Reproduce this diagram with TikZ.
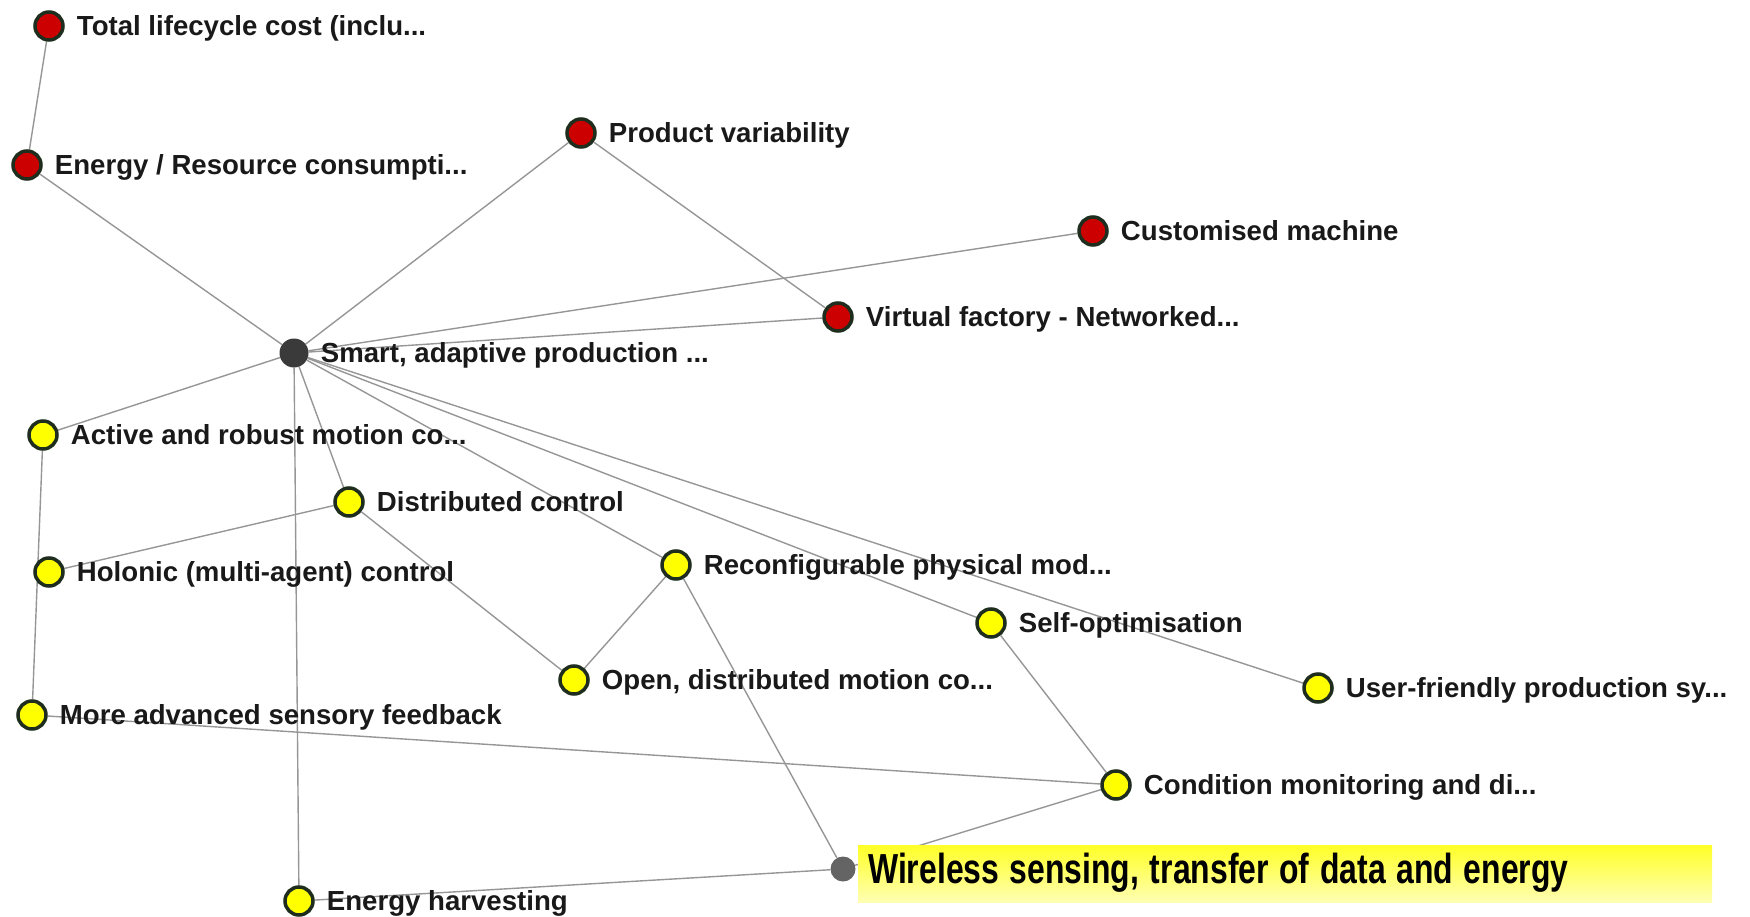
\documentclass[tikz,border=0pt]{standalone}
\usepackage{fontspec}
\setmainfont{Liberation Sans}
\usetikzlibrary{positioning, backgrounds}
\definecolor{nodered}{RGB}{204,0,0}
\definecolor{nodeyellow}{RGB}{255,255,0}
\definecolor{rimgreen}{RGB}{30,45,30}
\definecolor{hubgrey}{RGB}{58,58,58}
\definecolor{dotgrey}{RGB}{100,100,100}
\definecolor{edgegrey}{RGB}{150,150,150}

\begin{document}
\begin{tikzpicture}[
  x=1pt, y=-1pt,
  node distance=12pt,
  dot/.style={circle, draw=rimgreen, line width=3.5pt, inner sep=0pt, minimum size=28pt},
  redv/.style={dot, fill=nodered},
  yelv/.style={dot, fill=nodeyellow},
  hubv/.style={circle, fill=hubgrey, inner sep=0pt, minimum size=29pt},
  lbl/.style={inner sep=0pt, text height=19.5pt, text depth=0pt,
              font=\bfseries\fontsize{27.6}{30}\selectfont, text=black!90},
  edge/.style={draw=edgegrey, line width=1.4pt}
]
\useasboundingbox (0,0) rectangle (1750,917);

% red (driver) nodes
\node[redv] (tlc)  at (49,26)   {};
\node[redv] (erc)  at (27,165)  {};
\node[redv] (pvar) at (581,133) {};
\node[redv] (cust) at (1093,231) {};
\node[redv] (vfac) at (838,317) {};

% hub
\node[hubv] (smart) at (294,353) {};

% yellow (technology) nodes
\node[yelv] (arm)   at (43,435)   {};
\node[yelv] (dctl)  at (349,502)  {};
\node[yelv] (holo)  at (49,572)   {};
\node[yelv] (recf)  at (676,565)  {};
\node[yelv] (selfo) at (991,623)  {};
\node[yelv] (odm)   at (574,680)  {};
\node[yelv] (ufps)  at (1318,688) {};
\node[yelv] (masf)  at (32,715)   {};
\node[yelv] (cmon)  at (1116,785) {};
\node[yelv] (eharv) at (299,901)  {};

\node[circle, fill=dotgrey, inner sep=0pt, minimum size=25pt] (wsn) at (843,869) {};

% labels
\node[lbl, right=of tlc]   (tlc-t)   {Total lifecycle cost (inclu...};
\node[lbl, right=of erc]   (erc-t)   {Energy / Resource consumpti...};
\node[lbl, right=of pvar]  (pvar-t)  {Product variability};
\node[lbl, right=of cust]  (cust-t)  {Customised machine};
\node[lbl, right=of vfac]  (vfac-t)  {Virtual factory - Networked...};
\node[lbl, right=of smart] (smart-t) {Smart, adaptive production ...};
\node[lbl, right=of arm]   (arm-t)   {Active and robust motion co...};
\node[lbl, right=of dctl]  (dctl-t)  {Distributed control};
\node[lbl, right=of holo]  (holo-t)  {Holonic (multi-agent) control};
\node[lbl, right=of recf]  (recf-t)  {Reconfigurable physical mod...};
\node[lbl, right=of selfo] (selfo-t) {Self-optimisation};
\node[lbl, right=of odm]   (odm-t)   {Open, distributed motion co...};
\node[lbl, right=of ufps]  (ufps-t)  {User-friendly production sy...};
\node[lbl, right=of masf]  (masf-t)  {More advanced sensory feedback};
\node[lbl, right=of cmon]  (cmon-t)  {Condition monitoring and di...};
\node[lbl, right=of eharv] (eharv-t) {Energy harvesting};

% highlighted title box
\node[anchor=west, top color=yellow!85!white, bottom color=yellow!30!white,
      minimum width=854pt, minimum height=57pt, text width=834pt,
      inner xsep=10pt, inner ysep=0pt, text height=30pt, text depth=11pt,
      font=\bfseries\fontsize{42}{46}\selectfont]
  (wsn-t) at (858,873.5) {\scalebox{0.76}[1]{Wireless sensing, transfer of data and energy}};

\begin{scope}[on background layer]
  \draw[edge] (tlc) -- (erc);
  \draw[edge] (erc) -- (smart);
  \draw[edge] (smart) -- (pvar);
  \draw[edge] (pvar) -- (vfac);
  \draw[edge] (smart) -- (cust);
  \draw[edge] (smart) -- (vfac);
  \draw[edge] (smart) -- (arm);
  \draw[edge] (smart) -- (dctl);
  \draw[edge] (smart) -- (eharv);
  \draw[edge] (smart) -- (recf);
  \draw[edge] (smart) -- (selfo);
  \draw[edge] (smart) -- (ufps);
  \draw[edge] (arm) -- (masf);
  \draw[edge] (dctl) -- (holo);
  \draw[edge] (dctl) -- (odm);
  \draw[edge] (recf) -- (odm);
  \draw[edge] (recf) -- (wsn);
  \draw[edge] (selfo) -- (cmon);
  \draw[edge] (masf) -- (cmon);
  \draw[edge] (cmon) -- (wsn);
  \draw[edge] (wsn) -- (eharv);
\end{scope}

\end{tikzpicture}
\end{document}
